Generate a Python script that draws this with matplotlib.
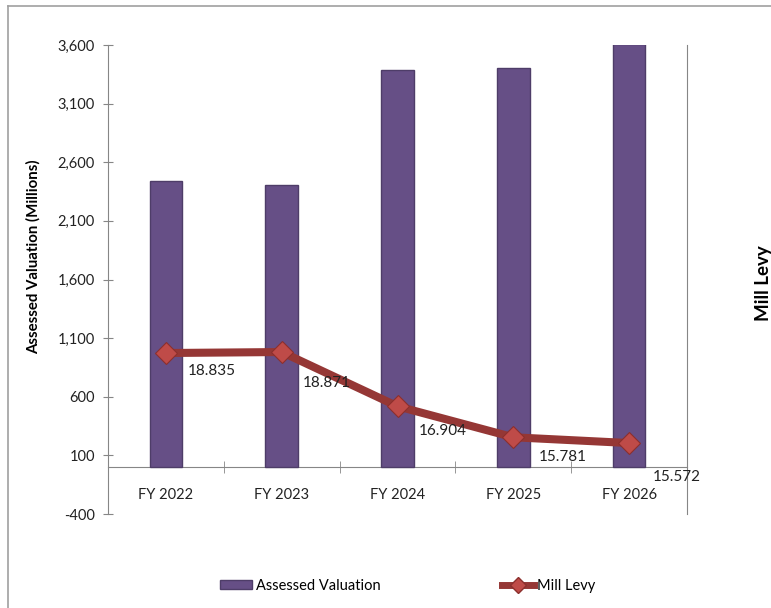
import matplotlib
matplotlib.use("Agg")
import matplotlib.pyplot as plt
from matplotlib.patches import Rectangle
from matplotlib.lines import Line2D
from matplotlib.ticker import FuncFormatter, FixedLocator

plt.rcParams['font.family'] = ['Lato', 'DejaVu Sans']

categories = ["FY 2022", "FY 2023", "FY 2024", "FY 2025", "FY 2026"]
assessed_valuation = [2440, 2405, 3388, 3402, 3610]
mill_levy = [18.835, 18.871, 16.904, 15.781, 15.572]
mill_levy_labels = ["18.835", "18.871", "16.904", "15.781", "15.572"]
left_ticks = [-400, 100, 600, 1100, 1600, 2100, 2600, 3100, 3600]

# label offsets (pixels) for data labels
label_offsets = [(22, -18), (21, -31), (21, -25), (25, -20), (24, -34)]

W, H = 771, 608
fig = plt.figure(figsize=(W / 100, H / 100), dpi=100)
ax = fig.add_axes([108 / W, (H - 514) / H, (687 - 108) / W, (514 - 45) / H])

gray = '#868686'
bar_color = '#664F86'
bar_edge = '#4E3D68'
line_color = '#953735'
marker_color = '#BF4B48'

x = list(range(len(categories)))
ax.bar(x, assessed_valuation, width=0.28, color=bar_color, edgecolor=bar_edge,
       linewidth=1.0, zorder=2)
ax.set_xlim(-0.5, len(categories) - 0.5)
ax.set_ylim(-400, 3600)
ax.yaxis.set_major_locator(FixedLocator(left_ticks))
ax.yaxis.set_major_formatter(FuncFormatter(lambda v, p: f"{int(v):,}"))

for s in ['top', 'right']:
    ax.spines[s].set_visible(False)
ax.spines['bottom'].set_position(('data', 0))
ax.spines['bottom'].set_color(gray)
ax.spines['left'].set_color(gray)
ax.spines['bottom'].set_zorder(1)

ax.set_xticks(x)
ax.set_xticklabels(categories)
ax.set_xticks([i + 0.5 for i in range(-1, len(categories))], minor=True)
ax.tick_params(axis='x', which='major', length=0, pad=15, labelsize=10.5, colors='#222222')
ax.tick_params(axis='x', which='minor', length=9, direction='inout', color=gray)
ax.tick_params(axis='y', which='major', length=7, direction='inout', color=gray,
               labelsize=10.5, labelcolor='#222222', pad=6)

ax2 = ax.twinx()
ax2.set_ylim(13, 30)
ax2.set_yticks([])
for s in ['top', 'left', 'bottom']:
    ax2.spines[s].set_visible(False)
ax2.spines['right'].set_color(gray)
ax2.plot(x, mill_levy, color=line_color, linewidth=5.8, marker='D', markersize=11.5,
         markerfacecolor=marker_color, markeredgecolor='#8C2F2D', markeredgewidth=0.8,
         zorder=3, solid_capstyle='round')
for xi, yi, lab, (dx, dy) in zip(x, mill_levy, mill_levy_labels, label_offsets):
    ax2.annotate(lab, (xi, yi), xytext=(dx, dy), textcoords='offset pixels',
                 ha='left', va='center', fontsize=11, color='#222222',
                 annotation_clip=False)

fig.text(33 / W, 1 - 257 / H, "Assessed Valuation (Millions)", rotation=90,
         ha='center', va='center', fontsize=10.8, fontweight='bold')
fig.text(763 / W, 1 - 283 / H, "Mill Levy", rotation=90,
         ha='center', va='center', fontsize=13.5, fontweight='bold')

# chart area border
fig.add_artist(Line2D([8 / W, 8 / W], [0, 1 - 6 / H], color='#A0A0A0', linewidth=1.2))
fig.add_artist(Line2D([8 / W, 1], [1 - 6 / H, 1 - 6 / H], color='#A0A0A0', linewidth=1.2))

handles = [Rectangle((0, 0), 1, 1, facecolor=bar_color, edgecolor=bar_edge),
           Line2D([], [], color=line_color, linewidth=5, marker='D', markersize=8,
                  markerfacecolor=marker_color, markeredgecolor='#8C2F2D')]
fig.legend(handles, ["Assessed Valuation", "Mill Levy"], loc='center',
           bbox_to_anchor=(408 / W, 1 - 586 / H), ncol=2, frameon=False,
           fontsize=10.5, handlelength=2.2, handleheight=0.55, handletextpad=0.25,
           columnspacing=8.3)

fig.savefig("out.png", dpi=100)
